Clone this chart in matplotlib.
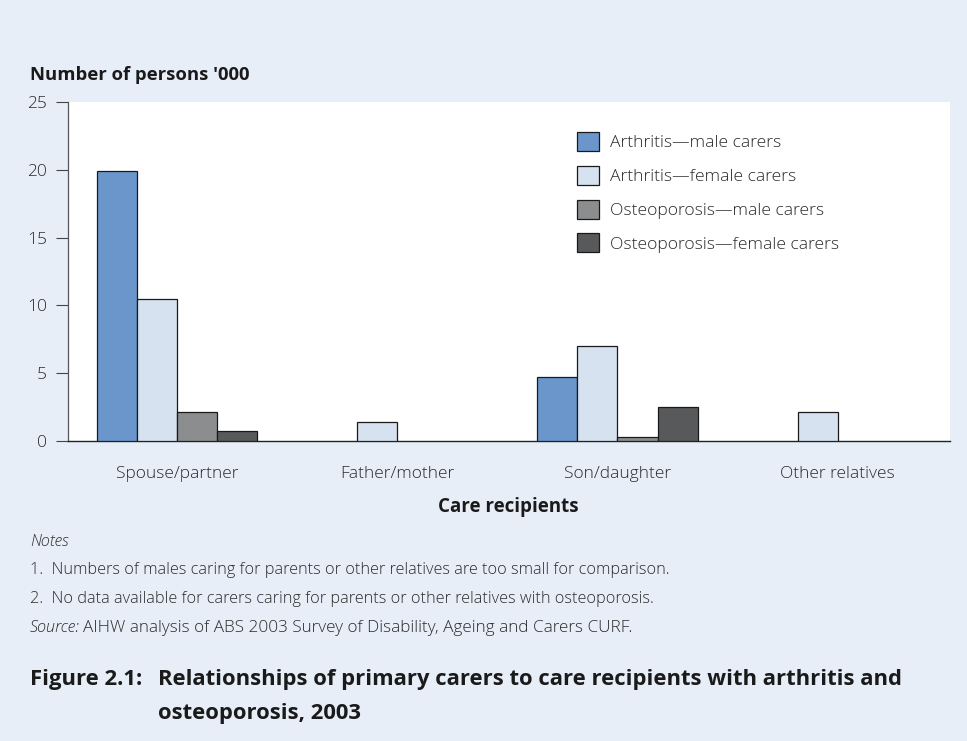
import numpy as np
import matplotlib
matplotlib.use("Agg")
import matplotlib.pyplot as plt
from matplotlib.patches import Patch

# ── Data ─────────────────────────────────────────────────────────────────────
CATEGORIES = ["Spouse/partner", "Father/mother", "Son/daughter", "Other relatives"]
SERIES = ["Arthritis\u2014male carers", "Arthritis\u2014female carers",
          "Osteoporosis\u2014male carers", "Osteoporosis\u2014female carers"]
ARTH_MALE   = [19.9, np.nan, 4.7, np.nan]
ARTH_FEMALE = [10.5, 1.4, 7.0, 2.1]
OST_MALE    = [2.1, np.nan, 0.3, np.nan]
OST_FEMALE  = [0.7, np.nan, 2.5, np.nan]
Y_TICKS = [0, 5, 10, 15, 20, 25]

COLORS = ["#6b96cc", "#d6e2f0", "#8c8d8f", "#58595b"]
BG     = "#e7eef8"
TXT    = "#2b2b2b"

plt.rcParams["font.family"] = ["Open Sans", "DejaVu Sans"]
plt.rcParams["font.weight"] = "light"

fig = plt.figure(figsize=(9.67, 7.41), dpi=100, facecolor=BG)
ax = fig.add_axes([0.0703, 0.4049, 0.9121, 0.4574])
ax.set_facecolor("white")

x = np.arange(len(CATEGORIES))
width = 0.182
values = [ARTH_MALE, ARTH_FEMALE, OST_MALE, OST_FEMALE]
for i, (vals, col) in enumerate(zip(values, COLORS)):
    ax.bar(x + (i - 1.5) * width, vals, width, color=col,
           edgecolor="#1a1a1a", linewidth=0.9, zorder=3)

ax.set_xlim(-0.495, 3.51)
ax.set_ylim(0, 25)
ax.set_yticks(Y_TICKS)
ax.tick_params(axis="y", length=9, width=0.8, color="#444444",
               labelsize=12.5, labelcolor=TXT, pad=6)
ax.set_xticks(x)
ax.set_xticklabels(CATEGORIES, fontsize=12.5, color=TXT)
ax.tick_params(axis="x", length=0, pad=18)
for s in ["top", "right"]:
    ax.spines[s].set_visible(False)
ax.spines["left"].set_color("#555555")
ax.spines["bottom"].set_color("#222222")
ax.spines["left"].set_linewidth(0.9)
ax.spines["bottom"].set_linewidth(1.0)

handles = [Patch(facecolor=c, edgecolor="#1a1a1a", linewidth=0.9) for c in COLORS]
fig.legend(handles, SERIES, loc="upper left", bbox_to_anchor=(0.580, 0.843),
           frameon=False, fontsize=12.6, handlelength=1.3, handleheight=1.3,
           labelspacing=0.82, handletextpad=0.6, labelcolor=TXT)

fig.text(0.031, 0.899, "Number of persons '000", fontsize=13.3, fontweight="bold",
         va="center", color="#1a1a1a")
fig.text(0.526, 0.316, "Care recipients", fontsize=13.5, fontweight="bold",
         ha="center", va="center", color="#1a1a1a")

NOTE_FS = 11.7
fig.text(0.031, 0.269, "Notes", fontsize=NOTE_FS, style="italic", va="center", color=TXT)
fig.text(0.031, 0.231, "1.  Numbers of males caring for parents or other relatives are too small for comparison.",
         fontsize=NOTE_FS, va="center", color=TXT)
fig.text(0.031, 0.192, "2.  No data available for carers caring for parents or other relatives with osteoporosis.",
         fontsize=NOTE_FS, va="center", color=TXT)
fig.text(0.031, 0.153, "Source:", fontsize=NOTE_FS, style="italic", va="center", color=TXT)
fig.text(0.086, 0.153, "AIHW analysis of ABS 2003 Survey of Disability, Ageing and Carers CURF.",
         fontsize=12.3, va="center", color=TXT)

TITLE_FS = 15.8
fig.text(0.031, 0.083, "Figure 2.1:", fontsize=TITLE_FS, fontweight="bold", va="center", color="#1a1a1a")
fig.text(0.163, 0.083, "Relationships of primary carers to care recipients with arthritis and",
         fontsize=TITLE_FS, fontweight="bold", va="center", color="#1a1a1a")
fig.text(0.163, 0.037, "osteoporosis, 2003", fontsize=TITLE_FS, fontweight="bold",
         va="center", color="#1a1a1a")

fig.savefig("out.png", dpi=100, facecolor=BG)
